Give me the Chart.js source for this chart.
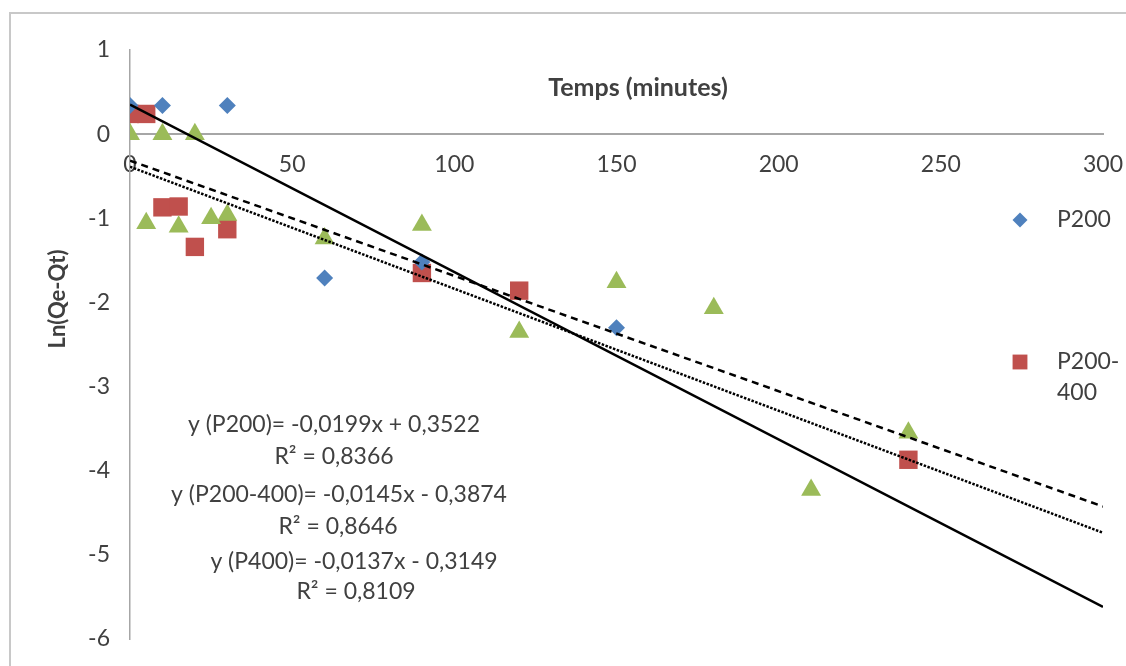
<!DOCTYPE html>
<html>
<head>
<meta charset="utf-8">
<script src="https://cdn.jsdelivr.net/npm/chart.js@4.4.1/dist/chart.umd.min.js"></script>
<style>
  html, body { margin: 0; padding: 0; background: #ffffff; }
  #wrap { width: 1126px; height: 666px; position: relative; }
</style>
</head>
<body>
<div id="wrap"><canvas id="chart" width="1126" height="666"></canvas></div>
<script>
// Measured points: time (minutes) and ln(Qe - Qt)
const timeP200 = [0, 10, 30, 60, 90, 150];
const lnP200 = [0.34, 0.34, 0.34, -1.71, -1.52, -2.30];

const timeP200_400 = [0, 5, 10, 15, 20, 30, 90, 120, 240];
const lnP200_400 = [0.24, 0.24, -0.87, -0.86, -1.34, -1.13, -1.65, -1.86, -3.87];

const timeP400 = [0, 5, 10, 15, 20, 25, 30, 60, 90, 120, 150, 180, 210, 240];
const lnP400 = [0, -1.06, 0, -1.10, 0, -1.00, -0.96, -1.24, -1.08, -2.35, -1.76, -2.07, -4.23, -3.55];

// Linear trendlines (pseudo-first-order fits)
const fitNames = ['P200', 'P200-400', 'P400'];
const fitSlopes = [-0.0199, -0.0145, -0.0137];
const fitIntercepts = [0.3522, -0.3874, -0.3149];
const fitR2 = [0.8366, 0.8646, 0.8109];
const fitRange = [0, 300];

// Axis ticks
const xTicks = [0, 50, 100, 150, 200, 250, 300];
const yTicks = [1, 0, -1, -2, -3, -4, -5, -6];

const pts = (xs, ys) => xs.map((x, i) => ({ x: x, y: ys[i] }));
const fitLine = i => fitRange.map(x => ({ x: x, y: fitSlopes[i] * x + fitIntercepts[i] }));
const fmt = v => Math.abs(v).toFixed(4).replace('.', ',');
const eqText = i => 'y (' + fitNames[i] + ')= ' + (fitSlopes[i] < 0 ? '-' : '') + fmt(fitSlopes[i]) + 'x ' +
  (fitIntercepts[i] < 0 ? '- ' : '+ ') + fmt(fitIntercepts[i]);
const r2Text = i => 'R\u00B2 = ' + fmt(fitR2[i]);

const FONT = 'Lato, "Open Sans", "DejaVu Sans", sans-serif';
const TEXT = '#404040';
const BLUE = '#4F81BD', RED = '#C0504D', GREEN = '#9BBB59';

const decorations = {
  id: 'decorations',
  afterDraw(chart) {
    const ctx = chart.ctx;
    ctx.save();
    // outer frame
    ctx.strokeStyle = '#C8C8C8';
    ctx.lineWidth = 2;
    ctx.beginPath();
    ctx.moveTo(1126, 13);
    ctx.lineTo(10, 13);
    ctx.lineTo(10, 666);
    ctx.stroke();

    // axis titles
    ctx.fillStyle = TEXT;
    ctx.font = 'bold 25px ' + FONT;
    ctx.textAlign = 'center';
    ctx.textBaseline = 'middle';
    ctx.fillText('Temps (minutes)', 638, 88);
    ctx.save();
    ctx.font = 'bold 22px ' + FONT;
    ctx.translate(58, 299);
    ctx.rotate(-Math.PI / 2);
    ctx.fillText('Ln(Qe-Qt)', 0, 0);
    ctx.restore();

    // trendline equations
    ctx.font = '23px ' + FONT;
    const eqPos = [[334, 425, 334, 457], [339, 495, 338, 527], [354, 562, 356, 592]];
    eqPos.forEach((p, i) => {
      ctx.fillText(eqText(i), p[0], p[1]);
      ctx.fillText(r2Text(i), p[2], p[3]);
    });

    // legend
    const items = [
      { ds: 0, x: 1020, y: 220, lines: ['P200'] },
      { ds: 1, x: 1020, y: 362, lines: ['P200-', '400'] }
    ];
    ctx.textAlign = 'left';
    ctx.font = '23px ' + FONT;
    items.forEach(it => {
      const ds = chart.data.datasets[it.ds];
      ctx.fillStyle = ds.backgroundColor;
      ctx.strokeStyle = ds.backgroundColor;
      ctx.lineWidth = 0;
      Chart.helpers.drawPoint(ctx, {
        pointStyle: ds.pointStyle,
        radius: it.ds === 0 ? 7.5 : 10.5,
        rotation: 0,
        borderWidth: 0
      }, it.x, it.y);
      ctx.fillStyle = TEXT;
      it.lines.forEach((t, k) => ctx.fillText(t, 1057, it.y + k * 31));
    });
    ctx.restore();
  }
};

new Chart(document.getElementById('chart'), {
  type: 'scatter',
  data: {
    datasets: [
      { label: 'P200', data: pts(timeP200, lnP200), pointStyle: 'rectRot', pointRadius: 8.5,
        backgroundColor: BLUE, borderColor: BLUE, borderWidth: 0, order: 2 },
      { label: 'P200-400', data: pts(timeP200_400, lnP200_400), pointStyle: 'rect', pointRadius: 13,
        backgroundColor: RED, borderColor: RED, borderWidth: 0, order: 3 },
      { label: 'P400', data: pts(timeP400, lnP400), pointStyle: 'triangle', pointRadius: 11.5,
        backgroundColor: GREEN, borderColor: GREEN, borderWidth: 0, order: 1 },
      { type: 'line', label: 'Linéaire (P200)', data: fitLine(0), showLine: true, pointRadius: 0,
        borderColor: '#000000', borderWidth: 2.5, fill: false, order: 0 },
      { type: 'line', label: 'Linéaire (P200-400)', data: fitLine(1), showLine: true, pointRadius: 0,
        borderColor: '#000000', borderWidth: 2.5, borderDash: [2.5, 1.5], fill: false, order: 0 },
      { type: 'line', label: 'Linéaire (P400)', data: fitLine(2), showLine: true, pointRadius: 0,
        borderColor: '#000000', borderWidth: 2.5, borderDash: [7, 5], fill: false, order: 0 }
    ]
  },
  options: {
    responsive: false,
    animation: false,
    devicePixelRatio: 1,
    layout: { padding: { left: 10, top: 50, right: 23, bottom: 27 } },
    plugins: { legend: { display: false }, tooltip: { enabled: false } },
    scales: {
      x: {
        type: 'linear',
        min: 0, max: 300,
        position: { y: 0 },
        afterBuildTicks: s => { s.ticks = xTicks.map(v => ({ value: v })); },
        afterFit: s => { s.paddingLeft = 0; s.paddingRight = 0; },
        ticks: { color: TEXT, font: { family: FONT, size: 23 }, padding: 17, maxRotation: 0 },
        grid: { display: false, drawTicks: false },
        border: { display: true, color: '#A6A6A6', width: 2 }
      },
      y: {
        type: 'linear',
        min: -6, max: 1,
        afterBuildTicks: s => { s.ticks = yTicks.map(v => ({ value: v })); },
        afterFit: s => { s.width = 120; s.paddingTop = 0; s.paddingBottom = 0; },
        ticks: { color: TEXT, font: { family: FONT, size: 23 }, padding: 20 },
        grid: { display: false, drawTicks: false },
        border: { display: true, color: '#A6A6A6', width: 1.5 }
      }
    }
  },
  plugins: [decorations]
});
</script>
</body>
</html>
